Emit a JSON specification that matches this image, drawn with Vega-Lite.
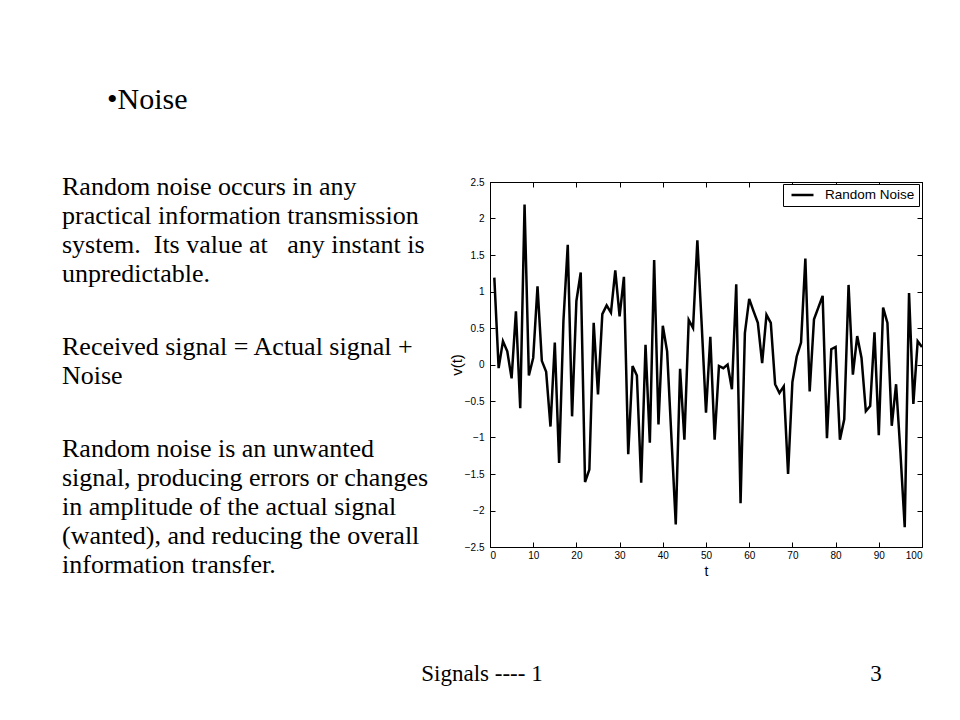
{
  "$schema": "https://vega.github.io/schema/vega-lite/v6.json",
  "background": "white",
  "padding": {"left": 62, "top": 84, "right": 5, "bottom": 5},
  "config": {"view": {"stroke": null}},
  "spacing": 84,
  "resolve": {"scale": {"color": "independent"}, "legend": {"color": "independent"}},
  "vconcat": [
    {
      "bounds": "flush",
      "spacing": 60,
      "resolve": {"scale": {"color": "independent"}, "legend": {"color": "independent"}},
      "hconcat": [
        {
          "width": 368,
          "height": 365,
          "layer": [
            {
              "data": {"values": [{"text": "•Noise", "line": -3}]},
              "mark": {"type": "text", "font": "Liberation Serif", "fontSize": 30, "align": "left", "baseline": "middle", "dx": 45, "x": 0, "color": "black"},
              "encoding": {
                "text": {"field": "text"},
                "y": {"field": "line", "type": "quantitative", "scale": {"domain": [-0.172, 12.379], "reverse": true, "nice": false, "zero": false}, "axis": null}
              }
            },
            {
              "data": {"values": [
                {"text": "Random noise occurs in any", "line": 0},
                {"text": "practical information transmission", "line": 1},
                {"text": "system.\u00a0 Its value at \u00a0\u00a0any instant is", "line": 2},
                {"text": "unpredictable.", "line": 3},
                {"text": "Received signal = Actual signal +", "line": 5.5},
                {"text": "Noise", "line": 6.5},
                {"text": "Random noise is an unwanted", "line": 9},
                {"text": "signal, producing errors or changes", "line": 10},
                {"text": "in amplitude of the actual signal", "line": 11},
                {"text": "(wanted), and reducing the overall", "line": 12},
                {"text": "information transfer.", "line": 13}
              ]},
              "mark": {"type": "text", "font": "Liberation Serif", "fontSize": 26, "align": "left", "baseline": "middle", "x": 0, "color": "black"},
              "encoding": {
                "text": {"field": "text"},
                "y": {"field": "line", "type": "quantitative", "scale": {"domain": [-0.172, 12.379], "reverse": true, "nice": false, "zero": false}, "axis": null}
              }
            }
          ]
        },
        {
          "width": 432,
          "height": 365,
          "data": {"values": [
            {"t": 1, "v": 1.19}, {"t": 2, "v": -0.05}, {"t": 3, "v": 0.32}, {"t": 4, "v": 0.18}, {"t": 5, "v": -0.19},
            {"t": 6, "v": 0.73}, {"t": 7, "v": -0.6}, {"t": 8, "v": 2.19}, {"t": 9, "v": -0.15}, {"t": 10, "v": 0.09},
            {"t": 11, "v": 1.07}, {"t": 12, "v": 0.05}, {"t": 13, "v": -0.1}, {"t": 14, "v": -0.85}, {"t": 15, "v": 0.3},
            {"t": 16, "v": -1.35}, {"t": 17, "v": 0.6}, {"t": 18, "v": 1.64}, {"t": 19, "v": -0.71}, {"t": 20, "v": 0.87},
            {"t": 21, "v": 1.26}, {"t": 22, "v": -1.61}, {"t": 23, "v": -1.44}, {"t": 24, "v": 0.57}, {"t": 25, "v": -0.41},
            {"t": 26, "v": 0.69}, {"t": 27, "v": 0.81}, {"t": 28, "v": 0.71}, {"t": 29, "v": 1.29}, {"t": 30, "v": 0.66},
            {"t": 31, "v": 1.2}, {"t": 32, "v": -1.23}, {"t": 33, "v": -0.02}, {"t": 34, "v": -0.15}, {"t": 35, "v": -1.62},
            {"t": 36, "v": 0.27}, {"t": 37, "v": -1.07}, {"t": 38, "v": 1.43}, {"t": 39, "v": -0.82}, {"t": 40, "v": 0.53},
            {"t": 41, "v": 0.18}, {"t": 42, "v": -1.0}, {"t": 43, "v": -2.19}, {"t": 44, "v": -0.06}, {"t": 45, "v": -1.03},
            {"t": 46, "v": 0.61}, {"t": 47, "v": 0.5}, {"t": 48, "v": 1.7}, {"t": 49, "v": 0.55}, {"t": 50, "v": -0.66},
            {"t": 51, "v": 0.38}, {"t": 52, "v": -1.03}, {"t": 53, "v": -0.02}, {"t": 54, "v": -0.05}, {"t": 55, "v": 0.0},
            {"t": 56, "v": -0.34}, {"t": 57, "v": 1.1}, {"t": 58, "v": -1.9}, {"t": 59, "v": 0.43}, {"t": 60, "v": 0.9},
            {"t": 61, "v": 0.73}, {"t": 62, "v": 0.57}, {"t": 63, "v": 0.02}, {"t": 64, "v": 0.68}, {"t": 65, "v": 0.57},
            {"t": 66, "v": -0.27}, {"t": 67, "v": -0.39}, {"t": 68, "v": -0.3}, {"t": 69, "v": -1.5}, {"t": 70, "v": -0.24},
            {"t": 71, "v": 0.11}, {"t": 72, "v": 0.3}, {"t": 73, "v": 1.45}, {"t": 74, "v": -0.37}, {"t": 75, "v": 0.62},
            {"t": 76, "v": 0.78}, {"t": 77, "v": 0.94}, {"t": 78, "v": -1.01}, {"t": 79, "v": 0.21}, {"t": 80, "v": 0.24},
            {"t": 81, "v": -1.03}, {"t": 82, "v": -0.75}, {"t": 83, "v": 1.09}, {"t": 84, "v": -0.14}, {"t": 85, "v": 0.39},
            {"t": 86, "v": 0.09}, {"t": 87, "v": -0.64}, {"t": 88, "v": -0.57}, {"t": 89, "v": 0.44}, {"t": 90, "v": -0.97},
            {"t": 91, "v": 0.78}, {"t": 92, "v": 0.57}, {"t": 93, "v": -0.84}, {"t": 94, "v": -0.27}, {"t": 95, "v": -1.2},
            {"t": 96, "v": -2.23}, {"t": 97, "v": 0.98}, {"t": 98, "v": -0.54}, {"t": 99, "v": 0.32}, {"t": 100, "v": 0.24}
          ]},
          "view": {"stroke": "black", "strokeWidth": 1},
          "layer": [
            {
              "mark": {"type": "line", "strokeWidth": 2.5, "strokeJoin": "miter"},
              "encoding": {
                "x": {"field": "t", "type": "quantitative", "scale": {"domain": [0, 100], "nice": false, "zero": false},
                  "axis": {"orient": "bottom", "values": [0, 10, 20, 30, 40, 50, 60, 70, 80, 90, 100], "title": "t", "grid": false,
                    "domainColor": "black", "tickColor": "black", "tickSize": -5, "labelPadding": 8,
                    "labelFont": "Liberation Sans", "labelFontSize": 10, "labelColor": "black",
                    "titleFont": "Liberation Sans", "titleFontSize": 14, "titleFontWeight": "normal", "titleColor": "black", "titlePadding": 4}},
                "y": {"field": "v", "type": "quantitative", "scale": {"domain": [-2.5, 2.5], "nice": false, "zero": false},
                  "axis": {"orient": "left", "values": [-2.5, -2, -1.5, -1, -0.5, 0, 0.5, 1, 1.5, 2, 2.5], "format": "~g", "title": "v(t)", "grid": false,
                    "domainColor": "black", "tickColor": "black", "tickSize": -5, "labelPadding": 11,
                    "labelFont": "Liberation Sans", "labelFontSize": 10, "labelColor": "black",
                    "titleFont": "Liberation Sans", "titleFontSize": 15, "titleFontWeight": "normal", "titleColor": "black", "titlePadding": 0}},
                "color": {"datum": "Random Noise", "type": "nominal", "scale": {"range": ["black"]},
                  "legend": {"orient": "none", "legendX": 293, "legendY": 2, "title": null, "strokeColor": "black", "fillColor": "white",
                    "padding": 4, "cornerRadius": 0, "symbolType": "M-2,0H2", "symbolStrokeWidth": 2.5, "symbolSize": 121,
                    "symbolOffset": 8.5, "labelOffset": 15.5,
                    "labelFont": "Liberation Sans", "labelFontSize": 13.5, "labelColor": "black"}}
              }
            },
            {
              "mark": {"type": "line", "opacity": 0},
              "encoding": {
                "x": {"field": "t", "type": "quantitative", "scale": {"domain": [0, 100], "nice": false, "zero": false},
                  "axis": {"orient": "top", "values": [0, 10, 20, 30, 40, 50, 60, 70, 80, 90, 100], "title": null, "labels": false, "grid": false,
                    "domainColor": "black", "tickColor": "black", "tickSize": -5}},
                "y": {"field": "v", "type": "quantitative", "scale": {"domain": [-2.5, 2.5], "nice": false, "zero": false},
                  "axis": {"orient": "right", "values": [-2.5, -2, -1.5, -1, -0.5, 0, 0.5, 1, 1.5, 2, 2.5], "title": null, "labels": false, "grid": false,
                    "domainColor": "black", "tickColor": "black", "tickSize": -5}}
              }
            }
          ],
          "resolve": {"axis": {"x": "independent", "y": "independent"}}
        }
      ]
    },
    {
      "width": 840,
      "height": 20,
      "layer": [
        {
          "data": {"values": [{"label": "Signals ---- 1"}]},
          "mark": {"type": "text", "font": "Liberation Serif", "fontSize": 23, "baseline": "middle", "color": "black"},
          "encoding": {"text": {"field": "label"}}
        },
        {
          "data": {"values": [{"label": "3"}]},
          "mark": {"type": "text", "font": "Liberation Serif", "fontSize": 23, "baseline": "middle", "color": "black", "dx": 394},
          "encoding": {"text": {"field": "label"}}
        }
      ]
    }
  ]
}
